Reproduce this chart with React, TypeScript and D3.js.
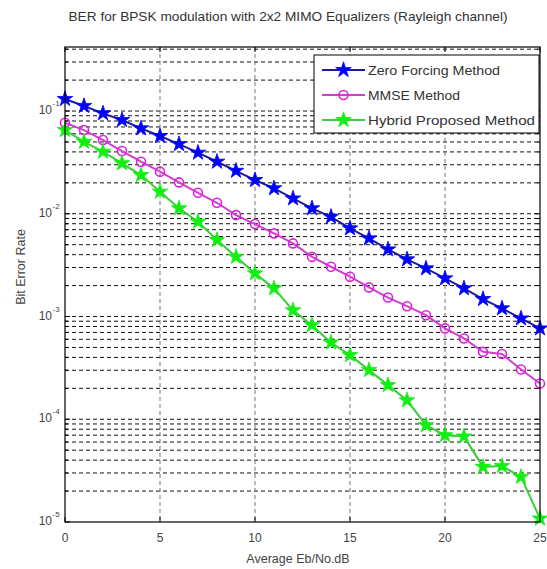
import React from 'react';
import * as d3 from 'd3';

// Eb/No (dB) points
const snrDb = [0, 1, 2, 3, 4, 5, 6, 7, 8, 9, 10, 11, 12, 13, 14, 15, 16, 17, 18, 19, 20, 21, 22, 23, 24, 25];

// BER curves
const zeroForcing = [
  0.131, 0.112, 0.095, 0.0817, 0.0678, 0.0571, 0.0477, 0.0393, 0.0321, 0.0262,
  0.0213, 0.0177, 0.0141, 0.0113, 0.00935, 0.00721, 0.00576, 0.0045, 0.0036, 0.00294,
  0.00235, 0.00188, 0.00148, 0.0012, 0.000958, 0.000766,
];
const mmse = [
  0.0769, 0.0653, 0.0522, 0.0408, 0.0321, 0.0257, 0.0202, 0.016, 0.0128, 0.00971,
  0.00794, 0.00644, 0.00515, 0.00381, 0.00305, 0.00244, 0.00192, 0.00153, 0.00126, 0.00103,
  0.000766, 0.000612, 0.000453, 0.000431, 0.000305, 0.000223,
];
const hybrid = [
  0.0653, 0.0502, 0.0402, 0.031, 0.0238, 0.0164, 0.0113, 0.00836, 0.00555, 0.00381,
  0.00263, 0.00188, 0.00115, 0.000824, 0.000557, 0.000421, 0.000301, 0.000215, 0.000153, 0.0000876,
  0.00007, 0.000068, 0.0000344, 0.000035, 0.0000275, 0.0000108,
];

const xTicks = [0, 5, 10, 15, 20, 25];
const yDecades = [-5, -4, -3, -2, -1];
const legendLabels = ['Zero Forcing Method', 'MMSE Method', 'Hybrid Proposed Method'];
const legendWidths = [132, 92, 167];

const title = 'BER for BPSK modulation with 2x2 MIMO Equalizers (Rayleigh channel)';
const font = '"Liberation Sans", Arial, sans-serif';

const App = () => {
  const width = 547;
  const height = 569;
  const plot = { left: 65, right: 540, top: 47, bottom: 522 };

  const x = d3.scaleLinear().domain([0, 25]).range([plot.left, plot.right]);
  const y = d3.scaleLog().domain([1e-5, 0.42]).range([plot.bottom, plot.top]);

  // minor grid values (2..9 of each decade) that fit in the domain
  const minor: number[] = [];
  yDecades.forEach(e => {
    for (let m = 2; m <= 9; m++) {
      const v = m * Math.pow(10, e);
      if (v <= 0.42) minor.push(v);
    }
  });
  const major = yDecades.slice(1).map(e => Math.pow(10, e));

  const line = d3.line<number>()
    .x((_, i) => x(snrDb[i]))
    .y(d => y(d));

  const star = d3.symbol().type(d3.symbolStar).size(75)();

  const series = [
    { name: legendLabels[0], data: zeroForcing, line: '#1c1c96', mark: '#0000ff', kind: 'star' },
    { name: legendLabels[1], data: mmse, line: '#d040d0', mark: '#e020e0', kind: 'circle' },
    { name: legendLabels[2], data: hybrid, line: '#3ccc3c', mark: '#10f010', kind: 'star' },
  ];

  const marker = (s: typeof series[0], cx: number, cy: number, key: string | number) =>
    s.kind === 'circle'
      ? <circle key={key} cx={cx} cy={cy} r={4.5} fill="none" stroke={s.mark} strokeWidth={1.6} />
      : <path key={key} d={star!} transform={`translate(${cx},${cy})`} fill={s.mark} stroke={s.mark} strokeWidth={0.8} />;

  const legend = { x: 314, y: 55, w: 225, h: 78 };

  return (
    <svg width={width} height={height} style={{ position: 'absolute', left: 0, top: 0, background: '#fff' }} fontFamily={font}>
      {/* title */}
      <text x={288} y={21} textAnchor="middle" fontSize={13} fill="#333" textLength={439} lengthAdjust="spacingAndGlyphs">{title}</text>

      {/* horizontal grid */}
      {[...minor, ...major].map((v, i) => (
        <line key={`hg${i}`} x1={plot.left} x2={plot.right} y1={y(v)} y2={y(v)}
          stroke="#111" strokeWidth={1} strokeDasharray="4,3" />
      ))}
      {/* vertical grid */}
      {xTicks.slice(1, -1).map(t => (
        <line key={`vg${t}`} x1={x(t)} x2={x(t)} y1={plot.top} y2={plot.bottom}
          stroke="#777" strokeWidth={1} strokeDasharray="4,3" />
      ))}

      {/* ticks */}
      {xTicks.map(t => (
        <g key={`xt${t}`}>
          <line x1={x(t)} x2={x(t)} y1={plot.bottom} y2={plot.bottom - 5} stroke="#000" />
          <line x1={x(t)} x2={x(t)} y1={plot.top} y2={plot.top + 5} stroke="#000" />
          <text x={x(t)} y={542} textAnchor="middle" fontSize={12} fill="#444">{t}</text>
        </g>
      ))}
      {minor.map((v, i) => (
        <g key={`ym${i}`}>
          <line x1={plot.left} x2={plot.left + 3} y1={y(v)} y2={y(v)} stroke="#000" />
          <line x1={plot.right} x2={plot.right - 3} y1={y(v)} y2={y(v)} stroke="#000" />
        </g>
      ))}
      {yDecades.map(e => (
        <g key={`yd${e}`}>
          <line x1={plot.left} x2={plot.left + 5} y1={y(Math.pow(10, e))} y2={y(Math.pow(10, e))} stroke="#000" />
          <line x1={plot.right} x2={plot.right - 5} y1={y(Math.pow(10, e))} y2={y(Math.pow(10, e))} stroke="#000" />
          <text x={52} y={y(Math.pow(10, e)) + 3} textAnchor="end" fontSize={12} fill="#444">10</text>
          <text x={52.5} y={y(Math.pow(10, e)) - 5} fontSize={8} fill="#444">{`-${-e}`}</text>
        </g>
      ))}

      {/* curves */}
      {series.map(s => (
        <g key={s.name}>
          <path d={line(s.data)!} fill="none" stroke={s.line} strokeWidth={2} />
          {s.data.map((v, i) => marker(s, x(snrDb[i]), y(v), i))}
        </g>
      ))}

      {/* axes box */}
      <rect x={plot.left} y={plot.top} width={plot.right - plot.left} height={plot.bottom - plot.top}
        fill="none" stroke="#000" strokeWidth={1.2} />

      {/* legend */}
      <rect x={legend.x} y={legend.y} width={legend.w} height={legend.h} fill="#fff" stroke="#000" strokeWidth={1} />
      {series.map((s, i) => {
        const ly = 70 + i * 25;
        return (
          <g key={`lg${i}`}>
            <line x1={322} x2={365} y1={ly} y2={ly} stroke={s.line} strokeWidth={2} />
            {marker(s, 343.5, ly, 'm')}
            <text x={368} y={ly + 5} fontSize={13.5} fill="#333" textLength={legendWidths[i]} lengthAdjust="spacingAndGlyphs">{s.name}</text>
          </g>
        );
      })}

      {/* axis labels */}
      <text x={298} y={563} textAnchor="middle" fontSize={12.5} fill="#444">Average Eb/No.dB</text>
      <text transform="translate(25,267) rotate(-90)" textAnchor="middle" fontSize={12.5} fill="#444">Bit Error Rate</text>
    </svg>
  );
};

export default App;
